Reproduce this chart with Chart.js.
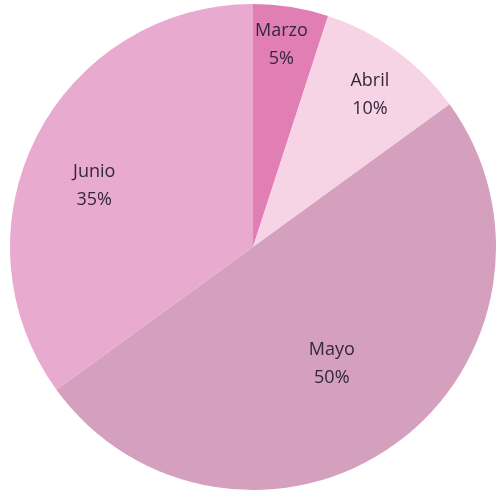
<!DOCTYPE html>
<html>
<head>
<meta charset="utf-8">
<script src="https://cdn.jsdelivr.net/npm/chart.js@4"></script>
<style>
html,body{margin:0;padding:0;background:#fff;}
#wrap{width:496px;height:493px;}
</style>
</head>
<body>
<div id="wrap"><canvas id="grafico"></canvas></div>
<script>
const meses = ["Marzo", "Abril", "Mayo", "Junio"];
const porcentajes = [5, 10, 50, 35];
const colores = ["#e17fb4", "#f6d4e6", "#d5a0bd", "#e9aad0"];

// ubicacion de etiquetas: fraccion del radio y desvio de angulo (grados)
const radioEtiqueta = [0.84, 0.79, 0.58, 0.70];
const desvioEtiqueta = [-1, 1.5, 2, -6];

const etiquetas = {
id:"etiquetas",
afterDatasetsDraw(chart){
const c = chart.ctx;
const arcs = chart.getDatasetMeta(0).data;
c.save();
c.fillStyle = "#33283a";
c.font = "18px 'Open Sans'";
c.textAlign = "center";
c.textBaseline = "middle";
arcs.forEach((a, i)=>{
let ang = (a.startAngle + a.endAngle)/2 + desvioEtiqueta[i]*Math.PI/180;
let r = a.outerRadius*radioEtiqueta[i];
let x = a.x + Math.cos(ang)*r;
let y = a.y + Math.sin(ang)*r;
c.fillText(meses[i], x, y-14);
c.fillText(porcentajes[i] + "%", x, y+14);
});
c.restore();
}
};

new Chart(document.getElementById("grafico"),{
type:"pie",
data:{
labels:meses,
datasets:[{
data:porcentajes,
backgroundColor:colores,
borderWidth:0
}]
},
options:{
responsive:true,
maintainAspectRatio:false,
animation:false,
layout:{padding:{left:10,right:0,top:3,bottom:2}},
plugins:{
legend:{display:false},
tooltip:{enabled:false}
}
},
plugins:[etiquetas]
});
</script>
</body>
</html>
